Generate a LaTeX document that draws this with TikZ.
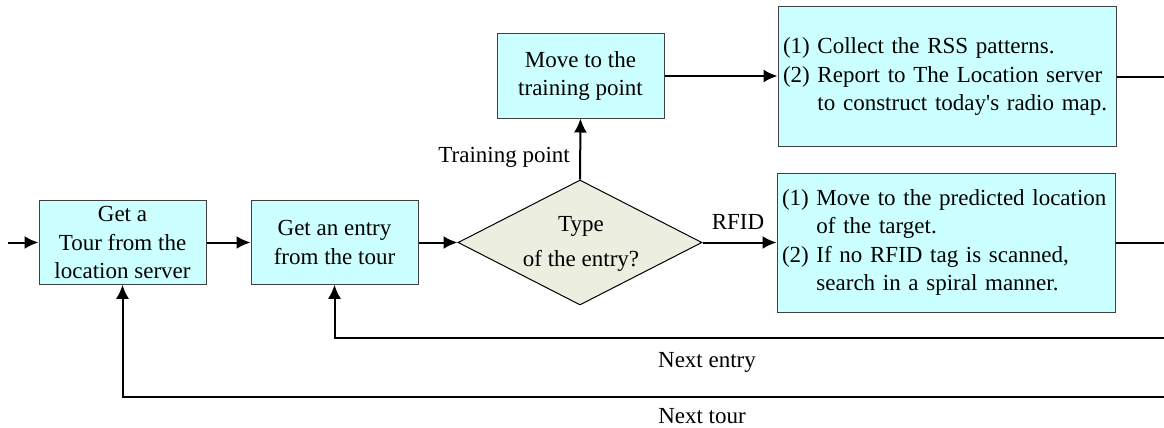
\documentclass[tikz,border=0pt]{standalone}
\usepackage{fontspec}
\setmainfont{Liberation Serif}
\usetikzlibrary{shapes.geometric,arrows.meta}
\definecolor{boxfill}{HTML}{CCFFFF}
\definecolor{decfill}{HTML}{ECEEDF}
\definecolor{boxline}{HTML}{404040}
\begin{document}
\begin{tikzpicture}[x=1pt,y=-1pt,
  every node/.style={font=\fontsize{23}{28.5}\selectfont},
  proc/.style={draw=boxline,line width=1pt,fill=boxfill,rectangle,inner sep=0pt,align=center},
  wide/.style={proc,align=left,text width=328pt,inner xsep=5pt,minimum width=338pt,minimum height=139pt},
  decision/.style={draw=black,line width=1pt,fill=decfill,diamond,inner sep=0pt,minimum width=244pt,minimum height=125pt},
  conn/.style={line width=2pt,-{Latex[length=14pt,width=13pt]}},
  plain/.style={line width=2pt},
  lbl/.style={inner sep=0pt}]
\useasboundingbox (0,0) rectangle (1164,428);

\node[proc,minimum width=167pt,minimum height=83.5pt] (b1) at (122.5,242.5) {Get a\\Tour from the\\location server};
\node[proc,minimum width=167pt,minimum height=83.5pt] (b2) at (334.5,242.5) {Get an entry\\from the tour};
\node[decision] (d) at (580,242.5) {};
\node[lbl,align=center] (dt) at (581,244) {Type\\[7pt]of the entry?};
\node[proc,minimum width=167pt,minimum height=84pt] (m) at (580.5,76) {Move to the\\training point};
\node[wide] (b3) at (947,76.5) {\begin{tabular}{@{}l@{\space}l@{}}(1)&Collect the RSS patterns.\\(2)&Report to The Location server\\&to construct today\textquotesingle s radio map.\end{tabular}};
\node[wide] (b4) at (946,242.5) {\begin{tabular}{@{}l@{\space}l@{}}(1)&Move to the predicted location\\&of the target.\\(2)&If no RFID tag is scanned,\\&search in a spiral manner.\end{tabular}};

\coordinate (in) at (8,242.5);
\coordinate (r3) at (1164,76.5);
\coordinate (r4) at (1164,242.5);
\coordinate (re) at (1164,338);
\coordinate (rt) at (1164,397);

\draw[conn] (in) -- (b1.west);
\draw[conn] (b1) -- (b2);
\draw[conn] (b2) -- (d.west);
\draw[conn] (d.north) -- (m.south);
\draw[conn] (m.east) -- (b3.west |- m.east);
\draw[conn] (d.east) -- (b4.west |- d.east);
\draw[plain] (b3.east) -- (r3);
\draw[plain] (b4.east) -- (r4);
\draw[conn] (re) -| (b2.south);
\draw[conn] (rt) -| (b1.south);

\node[lbl,anchor=base east] (tp) at (570,162) {Training point};
\node[lbl,anchor=base] (rf) at (738,229) {RFID};
\node[lbl,anchor=base] (ne) at (707,367) {Next entry};
\node[lbl,anchor=base] (nt) at (702,423) {Next tour};
\end{tikzpicture}
\end{document}
